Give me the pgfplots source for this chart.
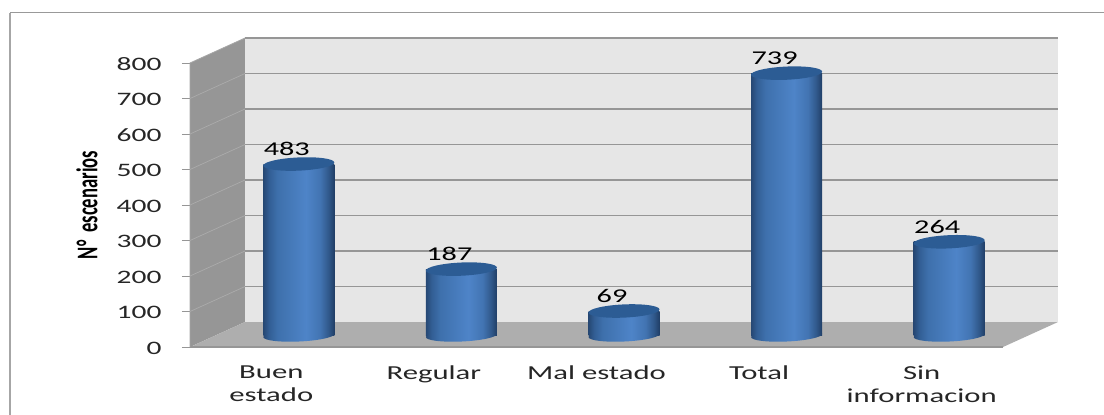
\documentclass[border=0pt]{standalone}
\usepackage{fontspec}
\setmainfont[FakeStretch=1.55]{Carlito}
\newfontfamily\ylfont[FakeStretch=0.62]{Carlito}
\usepackage{pgfplots}
\pgfplotsset{compat=1.18}
\pgfdeclarehorizontalshading{cyl}{100bp}{
  color(0bp)=(rgb,255:red,38;green,72;blue,116);
  color(25bp)=(rgb,255:red,38;green,72;blue,116);
  color(29bp)=(rgb,255:red,50;green,94;blue,148);
  color(35bp)=(rgb,255:red,62;green,112;blue,172);
  color(55bp)=(rgb,255:red,78;green,132;blue,200);
  color(65bp)=(rgb,255:red,66;green,116;blue,178);
  color(71bp)=(rgb,255:red,48;green,88;blue,138);
  color(75bp)=(rgb,255:red,32;green,62;blue,102);
  color(100bp)=(rgb,255:red,32;green,62;blue,102)}
\definecolor{capc}{RGB}{44,92,148}
\definecolor{wallc}{RGB}{230,230,230}
\definecolor{sidec}{RGB}{150,150,150}
\definecolor{floorc}{RGB}{174,174,174}
\definecolor{gridc}{RGB}{150,150,150}
\pgfdeclareplotmark{captop}{%
  \pgfpathellipse{\pgfpointorigin}{\pgfpoint{35.5pt}{1.6pt}}{\pgfpoint{-0.3pt}{6.6pt}}%
  \pgfsetfillcolor{capc}\pgfusepathqfill}
\pgfdeclareplotmark{capbot}{%
  \pgfpathellipse{\pgfpointorigin}{\pgfpoint{35.5pt}{1.6pt}}{\pgfpoint{-0.3pt}{6.0pt}}%
  \pgfshadepath{cyl}{0}\pgfusepath{}}
\begin{document}
\begin{tikzpicture}[x=1pt,y=1pt]
\path[use as bounding box] (0,0) rectangle (1104,-415);
\fill[white] (0,0) rectangle (1104,-415);
\draw[color=gray!80,line width=1pt] (1104,-12.5) -- (10,-12.5);
\draw[color=gray!70,line width=1.6pt] (10,-12.5) -- (10,-415);
% front plane: walls, floor, value axis, category labels
\begin{axis}[
  at={(190pt,-347pt)},anchor=origin,
  scale only axis,width=813pt,height=284pt,
  xmin=0,xmax=5,ymin=0,ymax=800,clip=false,
  ytick={0,100,...,800},
  xtick={0.5,1.5,2.5,3.5,4.5},
  xticklabels={Buen\\estado,Regular,Mal estado,Total,Sin\\informacion},
  /pgf/number format/assume math mode=true,
  tick pos=left,tick align=outside,
  major tick length=8pt,
  axis line style={draw=none},
  xtick style={draw=none},
  ytick style={draw=gridc,line width=1pt},
  yticklabel style={font=\fontsize{19}{23}\selectfont,text=black!85,xshift=-17pt,yshift=-1pt},
  xticklabel style={font=\fontsize{19.8}{23}\selectfont,text=black!85,align=center,yshift=-7.5pt},
  ylabel={\ylfont\bfseries N°\hspace{0.12em} escenarios},
  every axis y label/.style={at={(axis description cs:-0.1267,0.5)},rotate=90,anchor=center,font=\fontsize{30}{32}\selectfont,text=black},
]
\addplot[draw=none,fill=sidec,forget plot] coordinates {(0,0)(0.3383,70.4)(0.3383,870.4)(0,800)} -- cycle;
\addplot[draw=none,fill=wallc,forget plot] coordinates {(0.3383,70.4)(5.3383,70.4)(5.3383,870.4)(0.3383,870.4)} -- cycle;
\addplot[draw=none,fill=floorc,forget plot] coordinates {(0,0)(5,0)(5.3383,70.4)(0.3383,70.4)} -- cycle;
\addplot[draw=gridc,line width=1.3pt,unbounded coords=jump,forget plot] coordinates {
 (0.3383,170.4)(5.3383,170.4)(nan,nan)
 (0.3383,270.4)(5.3383,270.4)(nan,nan)
 (0.3383,370.4)(5.3383,370.4)(nan,nan)
 (0.3383,470.4)(5.3383,470.4)(nan,nan)
 (0.3383,570.4)(5.3383,570.4)(nan,nan)
 (0.3383,670.4)(5.3383,670.4)(nan,nan)
 (0.3383,770.4)(5.3383,770.4)(nan,nan)
 (0.3383,870.4)(5.3383,870.4)};
\addplot[draw=gridc!80,line width=0.7pt,unbounded coords=jump,forget plot] coordinates {
 (0,100)(0.3383,170.4)(nan,nan)
 (0,200)(0.3383,270.4)(nan,nan)
 (0,300)(0.3383,370.4)(nan,nan)
 (0,400)(0.3383,470.4)(nan,nan)
 (0,500)(0.3383,570.4)(nan,nan)
 (0,600)(0.3383,670.4)(nan,nan)
 (0,700)(0.3383,770.4)};
\addplot[draw=gridc,line width=1.2pt,forget plot] coordinates {(0,0)(5,0)};
\addplot[draw=gridc!85,line width=0.8pt,forget plot] coordinates {(0,0)(0,800)(0.3383,870.4)};
\end{axis}
% mid-depth plane: cylinders and values
\begin{axis}[
  at={(217.5pt,-335.5pt)},anchor=origin,
  scale only axis,width=813pt,height=284pt,
  xmin=0,xmax=5,ymin=0,ymax=800,clip=false,hide axis,
  /pgf/number format/assume math mode=true,
  cylbar/.style={ybar,bar width=71pt,bar shift=0pt,draw=none,shading=cyl,forget plot},
]
\addplot[only marks,mark=capbot,forget plot] coordinates {(0.5,0)(1.5,0)(2.5,0)(3.5,0)(4.5,0)};
\addplot[cylbar] coordinates {(0.5,483)};
\addplot[cylbar] coordinates {(1.5,187)};
\addplot[cylbar] coordinates {(2.5,69)};
\addplot[cylbar] coordinates {(3.5,739)};
\addplot[cylbar] coordinates {(4.5,264)};
\addplot[only marks,mark=captop,forget plot,
  nodes near coords,
  every node near coord/.append style={xshift=-12pt,yshift=5pt,font=\fontsize{19.5}{21}\selectfont,text=black}]
  coordinates {(0.5,483)(1.5,187)(2.5,69)(3.5,739)(4.5,264)};
\end{axis}
\end{tikzpicture}
\end{document}
